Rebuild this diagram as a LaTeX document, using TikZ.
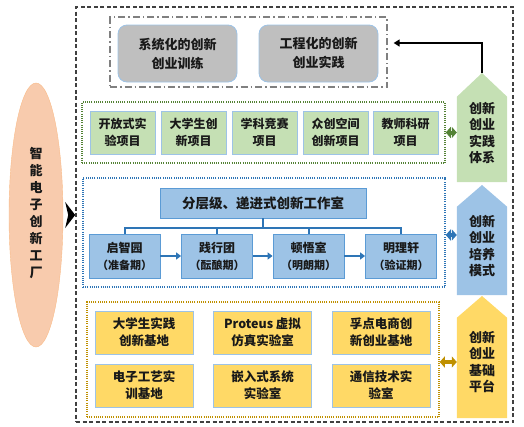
\documentclass[tikz,border=0pt]{standalone}
\usepackage{fontspec}
\setmainfont{Noto Sans CJK SC}
\usepackage{tikz}
\usetikzlibrary{arrows.meta, shapes.geometric}
\usepackage{xcolor}
\definecolor{facfill}{HTML}{F8CBAD}
\definecolor{grayfill}{HTML}{BFBFBF}
\definecolor{boxline}{HTML}{9DC3E6}
\definecolor{greenfill}{HTML}{C5E0B4}
\definecolor{greendark}{HTML}{548235}
\definecolor{bluefill}{HTML}{9DC3E6}
\definecolor{blueline}{HTML}{5B9BD5}
\definecolor{bluedark}{HTML}{2E75B6}
\definecolor{yellowfill}{HTML}{FFD966}
\definecolor{yellowdark}{HTML}{BF9000}

\begin{document}
\begin{tikzpicture}[x=1pt, y=-1pt,
    txt/.style={align=center, inner sep=0pt, text=black!90, font=\fontsize{12}{17}\selectfont\bfseries},
    graybox/.style={txt, draw=boxline, fill=grayfill, rounded corners=9pt, line width=0.8pt,
        minimum width=119pt, minimum height=57pt, font=\fontsize{13}{19}\selectfont\bfseries},
    greenbox/.style={txt, draw=boxline, fill=greenfill, line width=0.8pt, minimum width=65pt, minimum height=43pt},
    bluebox/.style={txt, draw=blueline, fill=bluefill, line width=0.8pt, minimum width=71pt, minimum height=44pt},
    yellowbox/.style={txt, draw=boxline, fill=yellowfill, line width=0.8pt, minimum width=98pt, minimum height=43pt,
        font=\fontsize{12.5}{17}\selectfont\bfseries},
    frame/.style={minimum width=#1, inner sep=0pt, line width=1.5pt, dash pattern=on 1pt off 1.2pt},
    pent/.style={minimum width=50pt, inner sep=0pt},
    penttxt/.style={txt, font=\fontsize{13}{16.5}\selectfont\bfseries},
    twoway/.style={line width=4pt, {Triangle[length=5pt,width=11pt]}-{Triangle[length=5pt,width=11pt]}},
    flow/.style={bluedark, line width=2pt, -{Triangle[length=5pt,width=7pt]}},
]
\useasboundingbox (0,0) rectangle (524,426);

\node[draw=black!75, line width=1.2pt, dash pattern=on 4pt off 2.5pt, minimum width=437pt, minimum height=415pt, inner sep=0pt] (outer) at (294.5,214.5) {};

\node[draw=facfill!80!orange, fill=facfill, ellipse, minimum width=54pt, minimum height=264pt, inner sep=0pt] (fac) at (36,215) {};
\node[txt, font=\fontsize{13}{17}\selectfont\bfseries] (factxt) at (36,213) {智\\能\\电\\子\\创\\新\\工\\厂};
% heavy chevron from the factory to the frame
\fill[black] (fac.east) ++(2,-13) -- ++(10,13) -- ++(-10,13) -- ++(3,-13) -- cycle;

\node[draw=black!50, line width=1.3pt, dash pattern=on 7pt off 3pt on 1.5pt off 3pt, minimum width=277pt, minimum height=70pt, inner sep=0pt] (tframe) at (248.5,52) {};
\node[graybox] (train) at (177.5,53.5) {系统化的创新\\创业训练};
\node[graybox] (practice) at (318.5,53.5) {工程化的创新\\创业实践};

\node[frame=363pt, draw=greendark, minimum height=61pt] (gframe) at (263.5,132.5) {};
\node[greenbox] (open) at (122.5,132.5) {开放式实\\验项目};
\node[greenbox] (student) at (193.5,132.5) {大学生创\\新项目};
\node[greenbox] (contest) at (264.5,132.5) {学科竞赛\\项目};
\node[greenbox] (space) at (335.5,132.5) {众创空间\\创新项目};
\node[greenbox] (teacher) at (405.5,132.5) {教师科研\\项目};

\node[frame=362pt, draw=bluedark, minimum height=109pt] (bframe) at (264,232.5) {};
\node[bluebox, minimum width=206pt, minimum height=30pt, font=\fontsize{13.5}{17}\selectfont\bfseries] (studio) at (263,203) {分层级、递进式创新工作室};
\node[bluebox] (qizhi) at (124.5,256) {启智园\\{\fontsize{11}{17}\selectfont（准备期）}};
\node[bluebox] (jianxing) at (217,256) {践行团\\{\fontsize{11}{17}\selectfont（酝酿期）}};
\node[bluebox] (dunwu) at (308.5,256) {顿悟室\\{\fontsize{11}{17}\selectfont（明朗期）}};
\node[bluebox] (mingli) at (401,256) {明理轩\\{\fontsize{11}{17}\selectfont（验证期）}};
\draw[bluedark, line width=2pt] (studio.south) -- ++(0,10) -| (qizhi.north);
\draw[bluedark, line width=2pt] (studio.south) -- ++(0,10) -| (jianxing.north);
\draw[bluedark, line width=2pt] (studio.south) -- ++(0,10) -| (dunwu.north);
\draw[bluedark, line width=2pt] (studio.south) -- ++(0,10) -| (mingli.north);
\draw[flow] (qizhi) -- (jianxing);
\draw[flow] (jianxing) -- (dunwu);
\draw[flow] (dunwu) -- (mingli);

\node[frame=352pt, draw=yellowdark, minimum height=115pt] (yframe) at (263,359.5) {};
\node[yellowbox] (base) at (144,332.5) {大学生实践\\创新基地};
\node[yellowbox] (proteus) at (262.5,332.5) {Proteus 虚拟\\仿真实验室};
\node[yellowbox] (fudian) at (381,332.5) {孚点电商创\\新创业基地};
\node[yellowbox] (craft) at (144,385.5) {电子工艺实\\训基地};
\node[yellowbox] (embed) at (262.5,385.5) {嵌入式系统\\实验室};
\node[yellowbox] (comm) at (381,385.5) {通信技术实\\验室};

\node[pent, minimum height=85pt] (gpent) at (482,139.5) {};
\coordinate (gtip) at (482,73);
\fill[greenfill] (gpent.south west) -- (gpent.north west) -- (gtip) -- (gpent.north east) -- (gpent.south east) -- cycle;
\node[penttxt] (gtxt) at (482,133) {创新\\创业\\实践\\体系};

\node[pent, minimum height=88pt] (bpent) at (482,251) {};
\coordinate (btip) at (482,185);
\fill[bluefill] (bpent.south west) -- (bpent.north west) -- (btip) -- (bpent.north east) -- (bpent.south east) -- cycle;
\node[penttxt] (btxt) at (482,246) {创新\\创业\\培养\\模式};

\node[pent, minimum height=100pt] (ypent) at (482,368) {};
\coordinate (ytip) at (482,296);
\fill[yellowfill] (ypent.south west) -- (ypent.north west) -- (ytip) -- (ypent.north east) -- (ypent.south east) -- cycle;
\node[penttxt] (ytxt) at (482,362) {创新\\创业\\基础\\平台};

\coordinate (barr) at ([yshift=-2.5pt]bframe.east);
\coordinate (yarr) at ([yshift=-2.5pt]yframe.east);
\draw[black, line width=1.5pt, -{Triangle[length=6pt,width=7pt]}] (gtip) |- ([xshift=6pt,yshift=9pt]tframe.east);
\draw[twoway, greendark] (gframe.east) -- (gpent.west |- gframe.east);
\draw[twoway, bluedark] (barr) -- (bpent.west |- barr);
\draw[twoway, yellowdark] (yarr) -- (ypent.west |- yarr);
\end{tikzpicture}
\end{document}
